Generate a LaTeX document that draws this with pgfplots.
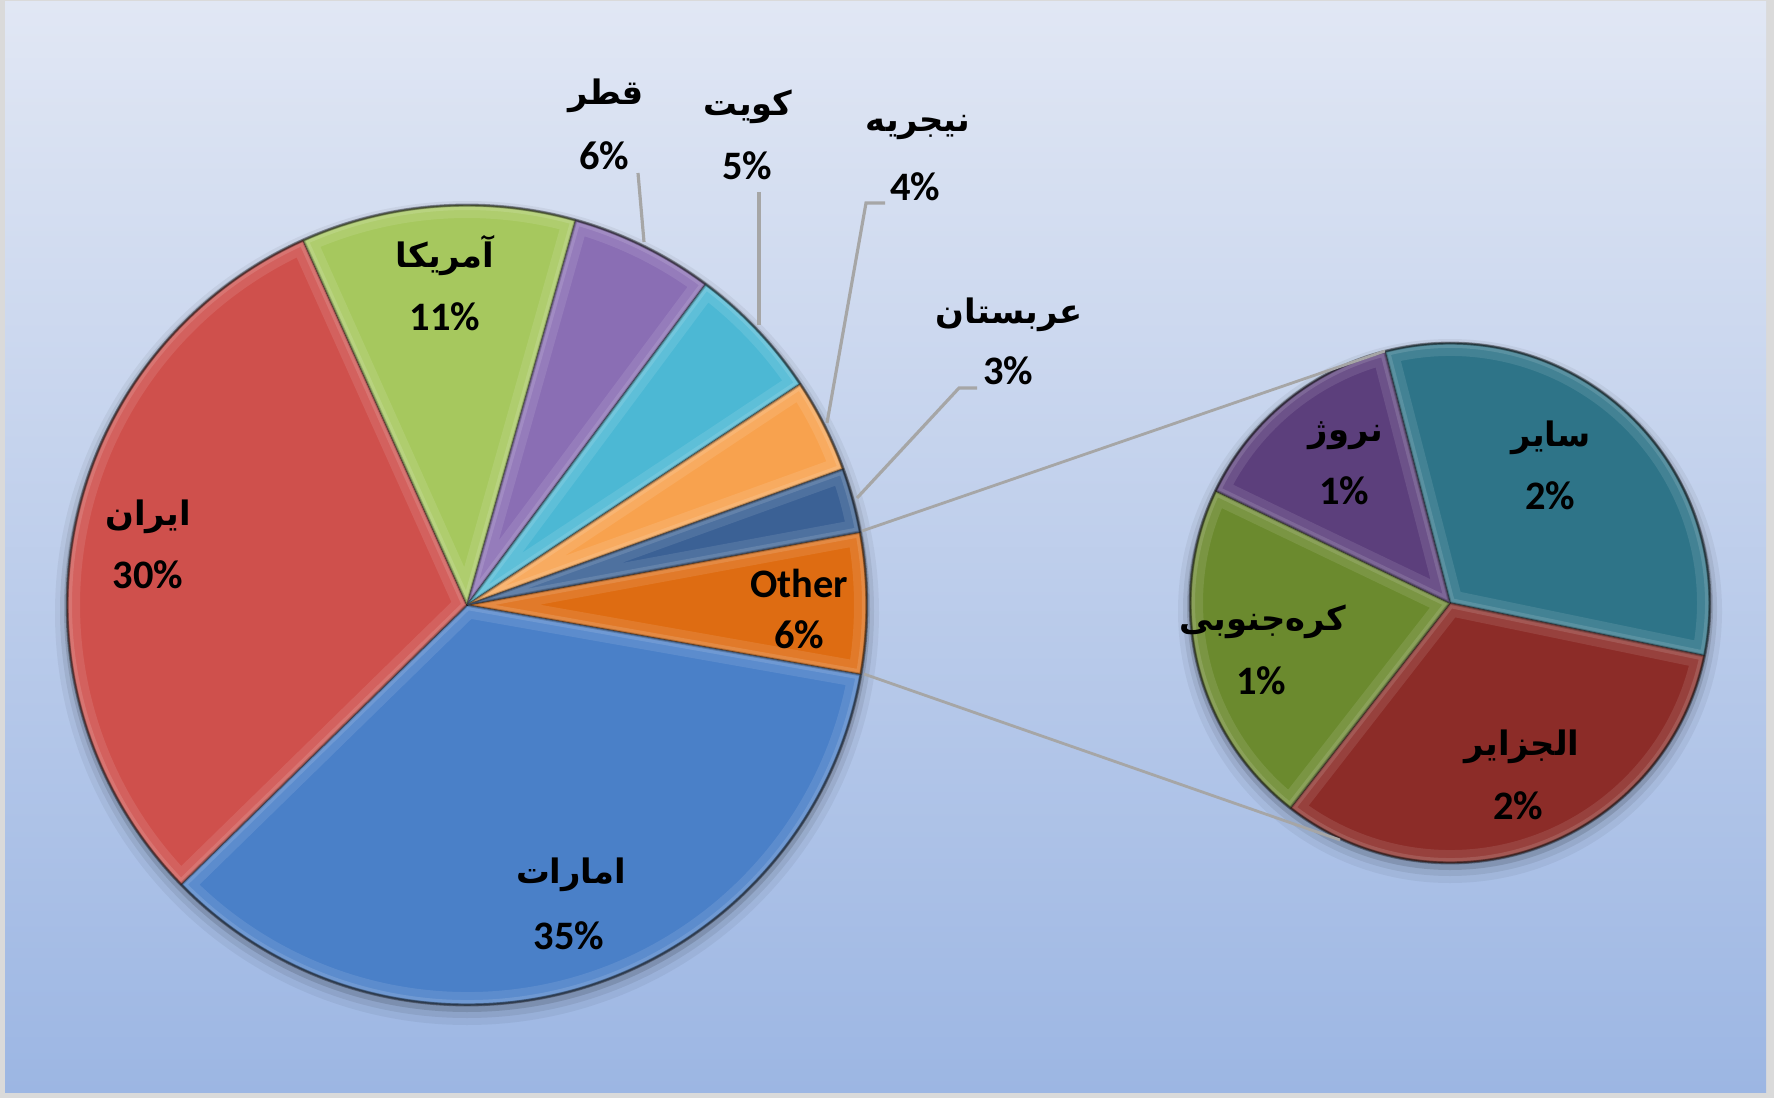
\documentclass[border=0pt]{standalone}
\usepackage{pgfplots}
\pgfplotsset{compat=1.18}
\usepackage{pgfplotstable}
\usepackage{fontspec}
\setmainfont{Carlito}
\newfontfamily\arabicfont[Script=Arabic]{DejaVu Sans}
\TeXXeTstate=1

% main pie: Other, Emirates, Iran, USA, Qatar, Kuwait, Nigeria, Saudi (clockwise)
\pgfplotstableread{
value
5.7
34.9
30.6
11.1
5.8
5.5
3.8
2.6
}\maintable
% secondary pie: Other countries, Algeria, South Korea, Norway (clockwise)
\pgfplotstableread{
value
1.84
1.84
1.23
0.79
}\subtable

\definecolor{mc0}{RGB}{222,108,18}
\definecolor{mc1}{RGB}{74,128,200}
\definecolor{mc2}{RGB}{207,80,76}
\definecolor{mc3}{RGB}{166,200,94}
\definecolor{mc4}{RGB}{138,110,180}
\definecolor{mc5}{RGB}{76,184,212}
\definecolor{mc6}{RGB}{248,162,78}
\definecolor{mc7}{RGB}{59,97,149}
\definecolor{sc0}{RGB}{46,116,136}
\definecolor{sc1}{RGB}{140,44,40}
\definecolor{sc2}{RGB}{107,138,46}
\definecolor{sc3}{RGB}{92,63,124}
\definecolor{bgtop}{RGB}{225,231,244}
\definecolor{bgbot}{RGB}{156,182,227}
\definecolor{frame}{RGB}{218,218,218}
\definecolor{leader}{RGB}{166,166,166}

% #1 table, #2 cx, #3 cy, #4 radius, #5 start angle, #6 colour prefix, #7 total
\newcommand{\drawpie}[7]{%
  \pgfplotstablegetrowsof{#1}%
  \pgfmathtruncatemacro\nrows{\pgfplotsretval-1}%
  \xdef\curang{#5}%
  \foreach \i in {0,...,\nrows}{%
    \pgfplotstablegetelem{\i}{value}\of{#1}%
    \let\v\pgfplotsretval
    \pgfmathsetmacro\endang{\curang-\v/#7*360}%
    \fill[#6\i] (axis cs:#2,#3) -- ++(\curang:#4) arc[start angle=\curang, end angle=\endang, radius=#4] -- cycle;
    \begin{scope}
      \clip (axis cs:#2,#3) -- ++(\curang:#4) arc[start angle=\curang, end angle=\endang, radius=#4] -- cycle;
      \draw[white, opacity=0.10, line width=2.6mm, line join=round] (axis cs:#2,#3) -- ++(\curang:#4) arc[start angle=\curang, end angle=\endang, radius=#4] -- cycle;
      \draw[white, opacity=0.12, line width=1.0mm, line join=round] (axis cs:#2,#3) -- ++(\curang:#4) arc[start angle=\curang, end angle=\endang, radius=#4] -- cycle;
      \draw[black, opacity=0.18, line width=0.35mm, line join=round] (axis cs:#2,#3) -- ++(\curang:#4) arc[start angle=\curang, end angle=\endang, radius=#4] -- cycle;
    \end{scope}
    \draw[black, opacity=0.3, line width=0.4pt, line join=round] (axis cs:#2,#3) -- ++(\curang:#4) arc[start angle=\curang, end angle=\endang, radius=#4] -- cycle;
    \xdef\curang{\endang}%
  }%
}

\newcommand{\shadow}[3]{%
  \fill[black, opacity=0.05] (axis cs:#1,#2) ++(0,-0.8mm) circle[radius=#3+1.2mm];
  \fill[black, opacity=0.07] (axis cs:#1,#2) ++(0,-0.6mm) circle[radius=#3+0.7mm];
  \fill[black, opacity=0.12] (axis cs:#1,#2) ++(0,-0.4mm) circle[radius=#3+0.3mm];
}

% #1,#2 name position, #3 name, #4,#5 percent position, #6 percent
\newcommand{\lab}[6]{%
  \node[inner sep=0pt] at (axis cs:#1,#2) {\fontsize{9.6}{12}\arabicfont\bfseries\beginR #3\endR};
  \node[inner sep=0pt] at (axis cs:#4,#5) {\fontsize{11.5}{13}\selectfont\bfseries #6\%};
}

\begin{document}
\begin{tikzpicture}
\begin{axis}[
  x=0.1mm, y=0.1mm,
  xmin=0, xmax=1774, ymin=0, ymax=1098,
  hide axis, clip=false,
]
\pgfplotsextra{%
  \fill[frame] (axis cs:0,0) rectangle (axis cs:1774,1098);
  \shade[top color=bgtop, bottom color=bgbot] (axis cs:5,6) rectangle (axis cs:1766,1096);
  \shadow{467}{493}{40mm}
  \shadow{1450}{495}{26mm}
  \drawpie{\maintable}{467}{493}{40mm}{10.5}{mc}{100}
  \drawpie{\subtable}{1450}{495}{26mm}{104.5}{sc}{5.7}
  \draw[black, opacity=0.35, line width=0.8pt] (axis cs:467,493) circle[radius=40mm];
  \draw[black, opacity=0.35, line width=0.8pt] (axis cs:1450,495) circle[radius=26mm];
}
% leader lines
\addplot[leader, line width=0.9pt, no marks] coordinates {(638,925) (644,856)};
\addplot[leader, line width=0.9pt, no marks] coordinates {(759,906) (759,773)};
\addplot[leader, line width=0.9pt, no marks] coordinates {(885,895) (866,895) (827,675)};
\addplot[leader, line width=0.9pt, no marks] coordinates {(977,710) (959,710) (857,600)};
% connector lines
\addplot[leader, line width=0.8pt, no marks] coordinates {(862,567) (1385,747)};
\addplot[leader, line width=0.8pt, no marks] coordinates {(864,424) (1340,258)};

\pgfplotsextra{%
  \lab{148}{581}{ایران}{148}{523}{30}
  \lab{571}{223}{امارات}{569}{162}{35}
  \lab{445}{842}{آمریکا}{445}{781}{11}
  \lab{606}{1002}{قطر}{604}{942}{6}
  \lab{748}{991}{کویت}{747}{932}{5}
  \lab{918}{970}{نیجریه}{915}{911}{4}
  \lab{1009}{783}{عربستان}{1008}{727}{3}
  \lab{1346}{662}{نروژ}{1344}{607}{1}
  \lab{1551}{660}{سایر}{1550}{602}{2}
  \lab{1263}{476}{کره‌جنوبی}{1261}{417}{1}
  \lab{1522}{351}{الجزایر}{1518}{292}{2}
  \node[inner sep=0pt] at (axis cs:799,515) {\fontsize{11.5}{13}\selectfont\bfseries Other};
  \node[inner sep=0pt] at (axis cs:799,463) {\fontsize{11.5}{13}\selectfont\bfseries 6\%};
}
\end{axis}
\end{tikzpicture}
\end{document}
